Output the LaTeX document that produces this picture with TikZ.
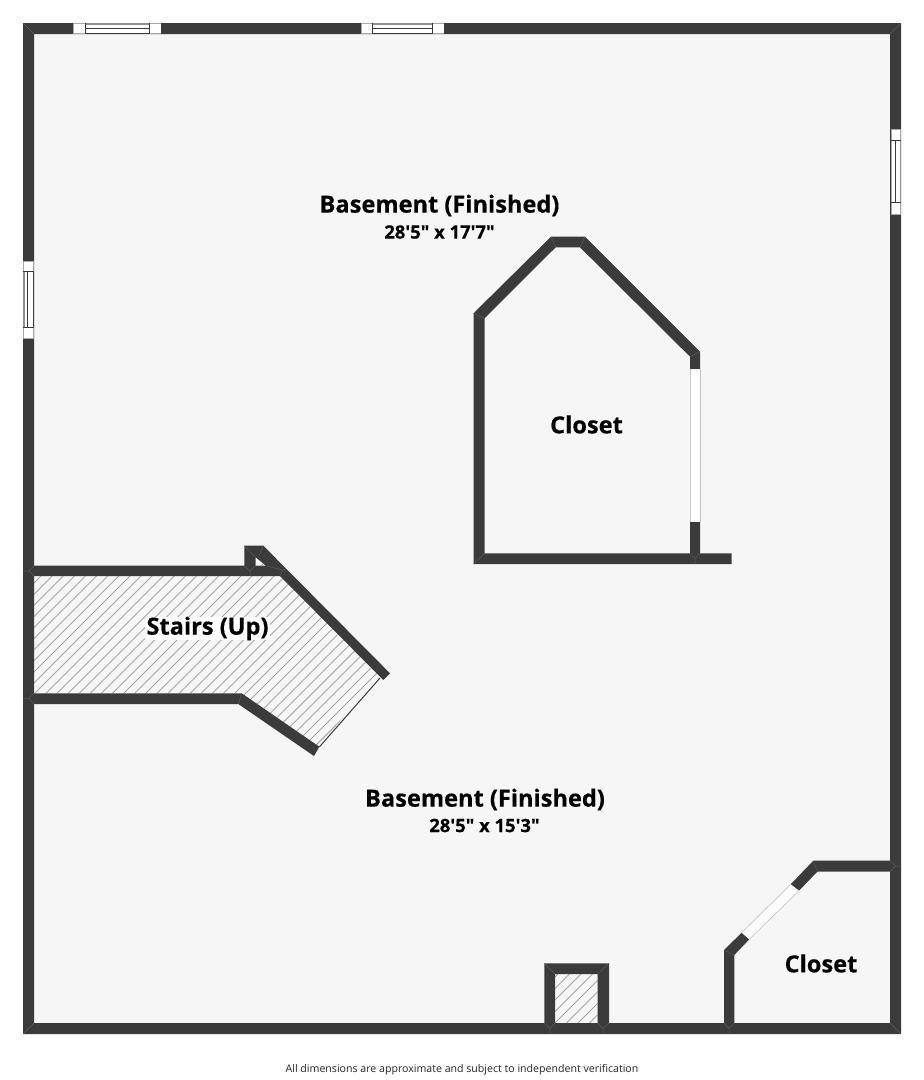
\documentclass[tikz,border=0pt]{standalone}
\usepackage{fontspec}
\newfontfamily\planfont[BoldFeatures={FakeBold=0.35}]{Open Sans}
\definecolor{wallc}{HTML}{3B3B3B}
\definecolor{floorc}{HTML}{F6F6F6}
\definecolor{mitrec}{HTML}{5C5C5C}
\definecolor{hatchc}{HTML}{A8A8A8}
\definecolor{wedgec}{HTML}{909090}
\tikzset{
  wall/.style={fill=wallc,draw=none},
  mitre/.style={draw=mitrec,line width=.5pt},
  hatchline/.style={draw=hatchc,line width=.9pt},
  winglass/.style={fill=white,draw=none},
  winline/.style={draw=wallc,line width=.7pt},
  winedge/.style={draw=wedgec,line width=1.4pt},
  capedge/.style={draw=black!35,line width=.5pt},
  openedge/.style={draw=black!22,line width=.7pt},
  roomtitle/.style={font=\planfont\fontsize{23.6}{26}\selectfont\bfseries,text=black,inner sep=0pt},
  roomsize/.style={font=\planfont\fontsize{18.4}{22}\selectfont\bfseries,text=black,inner sep=0pt},
  foot/.style={font=\planfont\fontsize{10.6}{13}\selectfont,text=black!85,inner sep=0pt}
}
\begin{document}
\begin{tikzpicture}[x=1pt,y=-1pt]
\useasboundingbox (0,0) rectangle (924,1080);
\fill[white] (0,0) rectangle (924,1080);
\fill[floorc] (23,23) rectangle (901,1034);
% hatched stairs
\begin{scope}
\clip (34,576) -- (280,576) -- (378,674) -- (319,747) -- (241.7,693.3) -- (34,693.3) -- cycle;
\foreach \k in {0,...,60} {\draw[hatchline] (0,{606+\k*11.1}) -- (700,{606+\k*11.1-700});}
\end{scope}
% hatched chimney
\begin{scope}
\clip (555,974) rectangle (597.7,1024);
\foreach \k in {0,...,12} {\draw[hatchline] (500,{1009+\k*11.5}) -- (700,{809+\k*11.5});}
\end{scope}
% stair edge
\draw[draw=wallc,line width=1pt] (319.3,747) -- (380,678);
% outer walls
\fill[wall,even odd rule] (23,23) rectangle (901,1034) (34,34) rectangle (890,1023);
% stairs walls
\fill[wall] (34,565.7) -- (244.3,565.7) -- (244.3,545.7) -- (263.3,545.7) -- (390,673.3) -- (383.3,680) -- (280,576) -- (34,576) -- cycle;
\begin{scope}
\clip (255.7,557.5) -- (255.7,565.7) -- (265.5,565.7) -- cycle;
\fill[white] (250,550) rectangle (270,570);
\draw[hatchline] (250,577) -- (270,557);
\end{scope}
\fill[wall] (34,693.3) -- (241.7,693.3) -- (319.3,746.7) -- (314,756) -- (238.3,704) -- (34,704) -- cycle;
% upper closet
\fill[wall] (473.5,564) -- (473.5,313.3) -- (551,236.7) -- (585,236.7) -- (700,351.7) -- (700,369.3) -- (690,369.3) -- (690,356.7) -- (580,247.3) -- (555.7,247.3) -- (484.5,318.3) -- (484.5,553.3) -- (690,553.3) -- (690,522) -- (700,522) -- (700,553.3) -- (731.7,553.3) -- (731.7,564) -- cycle;
\fill[winglass] (690,369.3) rectangle (700,522);
\draw[openedge] (690,369.3) -- (690,522) (700.3,369.3) -- (700.3,522);
% lower closet
\fill[wall] (890,860.7) -- (813.3,860.7) -- (790.7,884.3) -- (799,890.7) -- (817.3,871.7) -- (890,871.7) -- cycle;
\fill[wall] (741.7,932.7) -- (724,950) -- (724,1023) -- (734.3,1023) -- (734.3,955) -- (749.3,939.3) -- cycle;
\fill[winglass] (790.7,884.3) -- (799,890.7) -- (749.3,939.3) -- (741.7,932.7) -- cycle;
\draw[openedge] (790.7,884.3) -- (741.7,932.7) (799,890.7) -- (749.3,939.3);
% chimney walls
\fill[wall] (544.3,1023) -- (544.3,963.3) -- (609,963.3) -- (609,1023) -- (597.7,1023) -- (597.7,974) -- (555,974) -- (555,1023) -- cycle;
% mitre seams
\draw[mitre] (23,23) -- (34,34) (901,23) -- (890,34) (901,1034) -- (890,1023) (23,1034) -- (34,1023);
\draw[mitre] (23,571) -- (29,571) -- (34,565.7) (29,571) -- (34,576);
\draw[mitre] (23,698.6) -- (29,698.6) -- (34,693.3) (29,698.6) -- (34,704);
\draw[mitre] (244.3,565.7) -- (250,571) -- (250,576) (250,571) -- (255.7,565.7);
\draw[mitre] (244.3,545.7) -- (255.7,557.5) (263.3,545.7) -- (259,556) (265.5,565.7) -- (283,570) -- (280,576) (283,570) -- (286,569);
\draw[mitre] (241.7,693.3) -- (238.3,704);
\draw[mitre] (473.5,564) -- (484.5,553.3) (473.5,313.3) -- (484.5,318.3) (551,236.7) -- (555.7,247.3) (585,236.7) -- (580,247.3) (700,351.7) -- (690,356.7);
\draw[mitre] (690,553.3) -- (695,558.5) -- (700,553.3) (695,558.5) -- (695,564);
\draw[mitre] (813.3,860.7) -- (817.3,871.7) (724,950) -- (734.3,955) (890,871.7) -- (895.5,866) -- (890,860.7) (895.5,866) -- (901,866);
\draw[mitre] (724,1023) -- (729,1028.5) -- (734.3,1023) (729,1028.5) -- (729,1034);
\draw[mitre] (544.3,1023) -- (550,1028.5) -- (555,1023) (550,1028.5) -- (550,1034) (597.7,1023) -- (603,1028.5) -- (609,1023) (603,1028.5) -- (603,1034);
\draw[mitre] (544.3,963.3) -- (555,974) (609,963.3) -- (597.7,974);
% windows: top
\foreach \a/\b in {73.5/161,361/444} {
  \fill[winglass] (\a,23) rectangle (\b,34);
  \draw[capedge] (\a,23.3) rectangle (\b,33.7);
  \draw[winedge] ({\a+11.5},23.8) -- ({\b-11.5},23.8);
  \draw[winline] ({\a+11.5},28.5) -- ({\b-11.5},28.5) ({\a+11.5},33.5) -- ({\b-11.5},33.5);
  \draw[winline] ({\a+11.5},23) -- ({\a+11.5},34) ({\b-11.5},23) -- ({\b-11.5},34) (\b,23) -- (\b,34);
}
% window: right
\fill[winglass] (890.5,129) rectangle (901,214);
\draw[capedge] (890.8,129) rectangle (900.7,214);
\draw[winedge] (900.2,140.5) -- (900.2,202.5);
\draw[winline] (890.7,140.5) -- (890.7,202.5) (895.7,140.5) -- (895.7,202.5);
\draw[winline] (890.5,140.5) -- (901,140.5) (890.5,202.5) -- (901,202.5);
% window: left
\fill[winglass] (23,261) rectangle (33.5,338);
\draw[capedge] (23.3,261) rectangle (33.3,338);
\draw[winedge] (23.8,271) -- (23.8,327);
\draw[winline] (27.8,271) -- (27.8,327) (33.3,271) -- (33.3,327);
\draw[winline] (23,271) -- (33.5,271) (23,327) -- (33.5,327);
% labels
\node[roomtitle] (bupper) at (439.5,205.5) {Basement (Finished)};
\node[roomsize] (supper) at (439.5,232) {28'5" x 17'7"};
\node[roomtitle] (cupper) at (586.5,424.5) {Closet};
\node[roomtitle,fill=white,inner sep=1pt,inner ysep=0pt] (stairs) at (207.5,628.5) {Stairs (Up)};
\node[roomtitle] (blower) at (485,799.5) {Basement (Finished)};
\node[roomsize] (slower) at (484.5,825.5) {28'5" x 15'3"};
\node[roomtitle] (clower) at (821,963.5) {Closet};
\node[foot] (note) at (462,1069.5) {All dimensions are approximate and subject to independent verification};
\end{tikzpicture}
\end{document}
